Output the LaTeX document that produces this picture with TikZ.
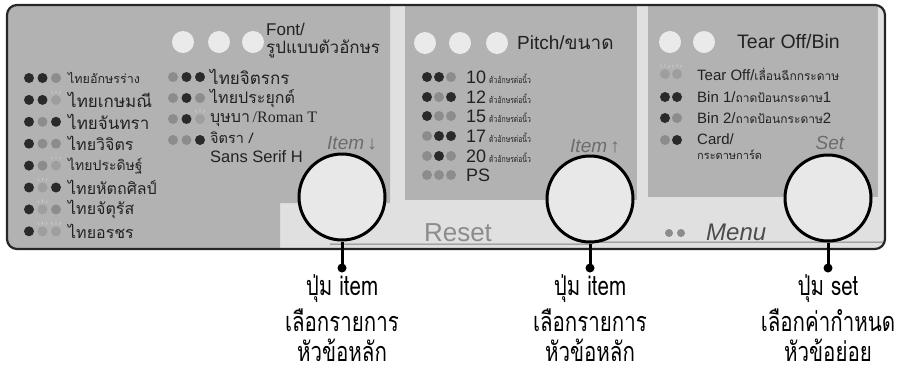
\documentclass[tikz,border=0pt]{standalone}
\usepackage{fontspec}
\setmainfont{Liberation Sans}
\newfontfamily\thfont[Script=Thai]{Loma}
\newfontfamily\thcond[Script=Thai,FakeStretch=0.76]{Loma}
\newfontfamily\serifroman{Liberation Serif}
\definecolor{panelgray}{HTML}{B2B2B2}
\definecolor{bandlight}{HTML}{E0E0E0}
\definecolor{led0}{HTML}{2A2A2A}
\definecolor{led1}{HTML}{8C8C8C}
\definecolor{led2}{HTML}{9E9E9E}
\definecolor{ledw}{HTML}{EAEAEA}
\definecolor{ink}{HTML}{222222}
\definecolor{labelgray}{HTML}{6C6C6C}
\newcommand\fs[1]{\fontsize{#1}{#1}\selectfont}
\newcommand\ledrow[5]{%
  \foreach \ledc [count=\ledi from 0] in {#5} {
    \fill[fill=led\ledc] ({#1+\ledi*#3},#2) circle (#4);
    \ifnum\ledc=2
      \draw[rays] ({#1+\ledi*#3-3.5},{#2-6.5}) -- ++(-1.2,-2.5)
                  ({#1+\ledi*#3},{#2-7}) -- ++(0,-2.8)
                  ({#1+\ledi*#3+3.5},{#2-6.5}) -- ++(1.2,-2.5);
    \fi
  }}
\tikzset{
  rays/.style={draw=white!80!black, line width=0.7},
  lbl/.style={anchor=west, inner sep=0, text=ink},
  button/.style={circle, inner sep=0, minimum size=86pt, draw=black, line width=3pt, fill=white!91!black},
  topled/.style={circle, inner sep=0, minimum size=22pt, fill=ledw},
  stem/.style={draw=black, line width=3pt},
  pindot/.style={circle, inner sep=0, minimum size=9pt, fill=black},
  caption/.style={inner sep=0, font=\thcond\fs{27}, text=black},
  keylabel/.style={inner sep=0, text=labelgray, font=\itshape\fs{19}}
}
\begin{document}
\begin{tikzpicture}[x=1pt,y=-1pt]
\useasboundingbox (0,0) rectangle (908,376);
% panel background
\begin{scope}
\clip[rounded corners=10pt] (7,5) rectangle (885,249);
\fill[bandlight] (7,5) rectangle (885,249);
\fill[panelgray] (7,5) -- (390,5) -- (390,203) -- (280,203) -- (280,249) -- (7,249) -- cycle;
\fill[panelgray] (405,5) rectangle (637,200);
\fill[panelgray] (648,5) rectangle (878,197);
\draw[gray, line width=1pt] (330,244) -- (592,244) -- (594,242) -- (885,242);
\end{scope}
\draw[line width=2.2pt, rounded corners=10pt, draw=black!85] (7,5) rectangle (885,249);

% ---- Font section
\node[topled] (fl1) at (183,42) {};
\node[topled] (fl2) at (219,42) {};
\node[topled] (fl3) at (253,42) {};
\node[lbl, font=\fs{17}] (fonthead) at (266,29) {Font/};
\node[lbl, font=\thfont\fs{17}] (fontheadth) at (266,49) {รูปแบบตัวอักษร};

\ledrow{29}{78}{13.5}{5}{0,0,1}
\ledrow{29}{99.9}{13.5}{5}{0,0,2}
\ledrow{29}{121.8}{13.5}{5}{0,1,0}
\ledrow{29}{143.7}{13.5}{5}{0,1,1}
\ledrow{29}{165.6}{13.5}{5}{0,1,2}
\ledrow{29}{187.5}{13.5}{5}{0,2,0}
\ledrow{29}{209.4}{13.5}{5}{0,2,1}
\ledrow{29}{231.3}{13.5}{5}{0,2,2}
\node[lbl, font=\thfont\fs{12.5}] (f1) at (68,78) {ไทยอักษรร่าง};
\node[lbl, font=\thfont\fs{17}] (f2) at (68,99.9) {ไทยเกษมณี};
\node[lbl, font=\thfont\fs{17}] (f3) at (68,121.8) {ไทยจันทรา};
\node[lbl, font=\thfont\fs{16}] (f4) at (68,143.7) {ไทยวิจิตร};
\node[lbl, font=\thfont\fs{14}] (f5) at (68,165.6) {ไทยประดิษฐ์};
\node[lbl, font=\thfont\fs{16}] (f6) at (68,187.5) {ไทยหัตถศิลป์};
\node[lbl, font=\thfont\fs{16}] (f7) at (68,209.4) {ไทยจัตุรัส};
\node[lbl, font=\thfont\fs{16}] (f8) at (68,231.3) {ไทยอรชร};

\ledrow{173}{77}{13.5}{5}{1,0,0}
\ledrow{173}{98}{13.5}{5}{1,0,1}
\ledrow{173}{119}{13.5}{5}{1,0,2}
\ledrow{173}{140}{13.5}{5}{1,1,0}
\node[lbl, font=\thfont\fs{17}] (g1) at (210,77) {ไทยจิตรกร};
\node[lbl, font=\thfont\fs{16}] (g2) at (210,98) {ไทยประยุกต์};
\node[lbl, font=\fs{16}] (g3) at (210,119) {{\thfont บุษบา}\,{\serifroman/Roman T}};
\node[lbl, font=\thfont\fs{14.5}] (g4) at (210,138) {จิตรา /};
\node[lbl, font=\fs{16.5}] (g5) at (210,157) {Sans Serif H};

% ---- Pitch section
\node[topled] (pl1) at (425,43) {};
\node[topled] (pl2) at (460,43) {};
\node[topled] (pl3) at (497,43) {};
\node[lbl, font=\fs{19}] (pitchhead) at (517,43) {Pitch/{\thfont ขนาด}};
\ledrow{427}{77}{12}{5}{0,0,1}
\ledrow{427}{97}{12}{5}{0,1,0}
\ledrow{427}{116}{12}{5}{0,1,1}
\ledrow{427}{136}{12}{5}{1,0,0}
\ledrow{427}{156}{12}{5}{1,0,1}
\ledrow{427}{175}{12}{5}{1,1,1}
\node[lbl, font=\fs{18}] (p10) at (466,77) {10\,{\thcond\fs{9}ตัวอักษรต่อนิ้ว}};
\node[lbl, font=\fs{18}] (p12) at (466,97) {12\,{\thcond\fs{9}ตัวอักษรต่อนิ้ว}};
\node[lbl, font=\fs{18}] (p15) at (466,116) {15\,{\thcond\fs{9}ตัวอักษรต่อนิ้ว}};
\node[lbl, font=\fs{18}] (p17) at (466,136) {17\,{\thcond\fs{9}ตัวอักษรต่อนิ้ว}};
\node[lbl, font=\fs{18}] (p20) at (466,156) {20\,{\thcond\fs{9}ตัวอักษรต่อนิ้ว}};
\node[lbl, font=\fs{18}] (pps) at (466,175) {PS};

% ---- Tear Off section
\node[topled] (tl1) at (670,42) {};
\node[topled] (tl2) at (704,42) {};
\node[lbl, font=\fs{19.5}] (tearhead) at (737,42) {Tear Off/Bin};
\ledrow{665}{74}{12}{5}{2,2}
\ledrow{665}{97}{12}{5}{0,0}
\ledrow{665}{118}{12}{5}{0,1}
\ledrow{665}{140}{12}{5}{1,0}
\node[lbl, font=\fs{15}] (t1) at (697,74) {Tear Off/{\thfont\fs{12}เลื่อนฉีกกระดาษ}};
\node[lbl, font=\fs{15}] (t2) at (697,97) {Bin 1/{\thfont\fs{12}ถาดป้อนกระดาษ}1};
\node[lbl, font=\fs{15}] (t3) at (697,118) {Bin 2/{\thfont\fs{12}ถาดป้อนกระดาษ}2};
\node[lbl, font=\fs{15}] (t4) at (697,139) {Card/};
\node[lbl, font=\thfont\fs{11}] (t5) at (697,155) {กระดาษการ์ด};

% ---- key labels
\node[keylabel] (itemdown) at (352,143) {Item\,\textup{↓}};
\node[keylabel] (itemup) at (595,146) {Item\,\textup{↑}};
\node[keylabel] (setlbl) at (830,143) {Set};
\node[inner sep=0, text=black!45, font=\fs{26}] (reset) at (458,233) {Reset};
\fill[black!45] (669,233) circle (4) (681,233) circle (4);
\node[inner sep=0, text=black!70, font=\itshape\fs{24}, anchor=west] (menu) at (706,232) {Menu};

% ---- buttons
\node[button] (b1) at (342,197) {};
\node[button] (b2) at (590,199) {};
\node[button] (b3) at (828,198) {};
\node[pindot] (d1) at (342,268) {};
\node[pindot] (d2) at (590,268) {};
\node[pindot] (d3) at (828,268) {};
\draw[stem] (b1.south) -- (d1.center);
\draw[stem] (b2.south) -- (d2.center);
\draw[stem] (b3.south) -- (d3.center);

% ---- captions
\node[caption] (c1a) at (342,289) {ปุ่ม item};
\node[caption] (c1b) at (342,320) {เลือกรายการ};
\node[caption] (c1c) at (342,350) {หัวข้อหลัก};
\node[caption] (c2a) at (590,289) {ปุ่ม item};
\node[caption] (c2b) at (590,320) {เลือกรายการ};
\node[caption] (c2c) at (590,350) {หัวข้อหลัก};
\node[caption] (c3a) at (828,289) {ปุ่ม set};
\node[caption] (c3b) at (828,320) {เลือกค่ากำหนด};
\node[caption] (c3c) at (828,350) {หัวข้อย่อย};
\end{tikzpicture}
\end{document}
